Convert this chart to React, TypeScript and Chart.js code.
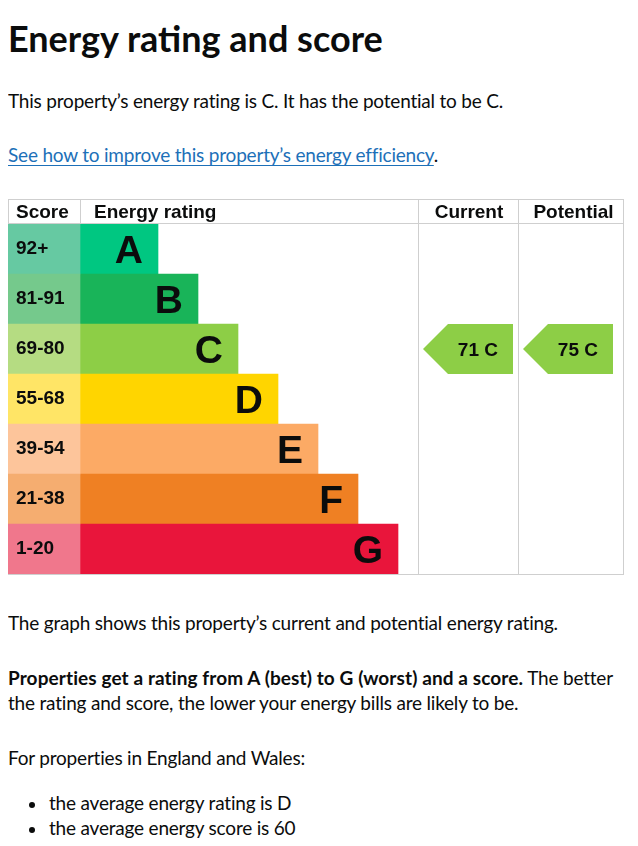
import { useEffect, useRef } from "react"
import { Chart, registerables, type ChartConfiguration, type Plugin } from "chart.js"

// Register Chart.js components
Chart.register(...registerables)

// Rating bands, best to worst
const ratings = ["A", "B", "C", "D", "E", "F", "G"]
const scoreRanges = ["92+", "81-91", "69-80", "55-68", "39-54", "21-38", "1-20"]
const barLengths = [78, 118, 158, 198, 238, 278, 318]
const bandColors = ["#00c781", "#19b459", "#8dce46", "#ffd500", "#fcaa65", "#ef8023", "#e9153b"]
const scoreColors = ["#66c9a2", "#75c98c", "#b5dc82", "#ffe566", "#fdc59b", "#f5ad70", "#f0778c"]

// Current and potential results for this property
const currentScore = 71
const currentRating = "C"
const potentialScore = 75
const potentialRating = "C"

const columnHeaders = ["Score", "Energy rating", "Current", "Potential"]
const averageNotes = ["the average energy rating is D", "the average energy score is 60"]

const SCORE_COL = 72
const CURRENT_LEFT = 410
const POTENTIAL_LEFT = 510
const TABLE_RIGHT = 615
const HEADER_H = 25
const GRID = "#cfcfcf"
const FONT = "'Liberation Sans', Arial, sans-serif"

const tablePlugin: Plugin<"bar"> = {
  id: "epcTable",
  beforeDatasetsDraw(chart) {
    const { ctx, height } = chart
    ctx.save()
    ctx.strokeStyle = GRID
    ctx.lineWidth = 1
    ctx.beginPath()
    // outer top, header bottom and bottom lines
    ctx.moveTo(0, 0.5)
    ctx.lineTo(TABLE_RIGHT + 1, 0.5)
    ctx.moveTo(0, HEADER_H - 0.5)
    ctx.lineTo(TABLE_RIGHT + 1, HEADER_H - 0.5)
    ctx.moveTo(0, height - 0.5)
    ctx.lineTo(TABLE_RIGHT + 1, height - 0.5)
    // verticals
    for (const x of [0, SCORE_COL, CURRENT_LEFT, POTENTIAL_LEFT, TABLE_RIGHT]) {
      ctx.moveTo(x + 0.5, 0)
      ctx.lineTo(x + 0.5, height)
    }
    ctx.stroke()
    ctx.restore()
  },
  afterDatasetsDraw(chart) {
    const { ctx } = chart
    const xScale = chart.scales.x
    const yScale = chart.scales.y
    const rowH = yScale.getPixelForValue(1) - yScale.getPixelForValue(0)
    ctx.save()

    // header texts
    ctx.fillStyle = "#0b0c0c"
    ctx.font = `bold 19px ${FONT}`
    ctx.textBaseline = "alphabetic"
    ctx.textAlign = "left"
    ctx.fillText(columnHeaders[0], 8, 19)
    ctx.fillText(columnHeaders[1], SCORE_COL + 14, 19)
    ctx.textAlign = "center"
    ctx.fillText(columnHeaders[2], (CURRENT_LEFT + POTENTIAL_LEFT) / 2 + 1, 19)
    ctx.fillText(columnHeaders[3], (POTENTIAL_LEFT + TABLE_RIGHT) / 2 + 3, 19)

    // score ranges and band letters
    ratings.forEach((r, i) => {
      const yc = yScale.getPixelForValue(i)
      ctx.fillStyle = "#0b0c0c"
      ctx.textAlign = "left"
      ctx.font = `bold 19px ${FONT}`
      ctx.fillText(scoreRanges[i], 8, yc + 5)
      ctx.textAlign = "right"
      ctx.font = `bold 39px ${FONT}`
      ctx.fillText(r, xScale.getPixelForValue(SCORE_COL + barLengths[i]) - 15, yc + 14)
    })

    // rating arrows
    const drawArrow = (left: number, score: number, rating: string) => {
      const idx = ratings.indexOf(rating)
      const yc = yScale.getPixelForValue(idx)
      const top = yc - rowH / 2
      const bottom = yc + rowH / 2
      const x0 = xScale.getPixelForValue(left + 5)
      const x1 = x0 + 25
      const x2 = x0 + 90
      ctx.fillStyle = bandColors[idx]
      ctx.beginPath()
      ctx.moveTo(x0, yc)
      ctx.lineTo(x1, top)
      ctx.lineTo(x2, top)
      ctx.lineTo(x2, bottom)
      ctx.lineTo(x1, bottom)
      ctx.closePath()
      ctx.fill()
      ctx.fillStyle = "#0b0c0c"
      ctx.font = `bold 19px ${FONT}`
      ctx.textAlign = "right"
      ctx.fillText(`${score} ${rating}`, x2 - 15, yc + 7)
    }
    drawArrow(CURRENT_LEFT, currentScore, currentRating)
    drawArrow(POTENTIAL_LEFT, potentialScore, potentialRating)
    ctx.restore()
  },
}

function EpcChart() {
  const canvasRef = useRef<HTMLCanvasElement>(null)

  useEffect(() => {
    if (!canvasRef.current) return
    const config: ChartConfiguration<"bar"> = {
      type: "bar",
      data: {
        labels: ratings,
        datasets: [
          {
            data: ratings.map(() => SCORE_COL),
            backgroundColor: scoreColors,
            borderWidth: 0,
            barPercentage: 1,
            categoryPercentage: 1,
          },
          {
            data: barLengths,
            backgroundColor: bandColors,
            borderWidth: 0,
            barPercentage: 1,
            categoryPercentage: 1,
          },
        ],
      },
      options: {
        indexAxis: "y",
        responsive: true,
        maintainAspectRatio: false,
        animation: false,
        events: [],
        layout: { padding: { top: HEADER_H, bottom: 1, left: 0, right: 0 } },
        scales: {
          x: { display: false, stacked: true, min: 0, max: 616 },
          y: { display: false, stacked: true },
        },
        plugins: { legend: { display: false }, tooltip: { enabled: false } },
      },
      plugins: [tablePlugin],
    }
    const chart = new Chart(canvasRef.current, config)
    return () => chart.destroy()
  }, [])

  return (
    <div style={{ position: "absolute", left: 0, top: 191, width: 616, height: 376 }}>
      <canvas ref={canvasRef} />
    </div>
  )
}

const body: React.CSSProperties = {
  position: "absolute",
  left: 0,
  margin: 0,
  fontSize: 19,
  lineHeight: "25px",
  letterSpacing: "-0.2px",
  color: "#0b0c0c",
  whiteSpace: "nowrap",
}

export default function App() {
  return (
    <div style={{ position: "relative", width: 622, height: 830, fontFamily: "Lato, sans-serif" }}>
      <h1 style={{ position: "absolute", left: 0, top: 10, margin: 0, fontSize: 36, lineHeight: "40px", fontWeight: 700, color: "#0b0c0c", whiteSpace: "nowrap" }}>
        Energy rating and score
      </h1>
      <p style={{ ...body, top: 80 }}>This property’s energy rating is C. It has the potential to be C.</p>
      <p style={{ ...body, top: 134 }}>
        <a href="#" style={{ color: "#1d70b8", textDecoration: "underline", textUnderlineOffset: 3, textDecorationThickness: 1 }}>
          See how to improve this property’s energy efficiency
        </a>
        .
      </p>
      <EpcChart />
      <p style={{ ...body, top: 602 }}>The graph shows this property’s current and potential energy rating.</p>
      <p style={{ ...body, top: 657 }}>
        <strong style={{ letterSpacing: "0.1px" }}>Properties get a rating from A (best) to G (worst) and a score.</strong> The better
        <br />
        the rating and score, the lower your energy bills are likely to be.
      </p>
      <p style={{ ...body, top: 737 }}>For properties in England and Wales:</p>
      <ul style={{ ...body, top: 782, padding: 0, listStyle: "none" }}>
        {averageNotes.map((note) => (
          <li key={note} style={{ position: "relative", paddingLeft: 41 }}>
            <span
              style={{ position: "absolute", left: 21, top: 12, width: 6, height: 6, borderRadius: 3, background: "#0b0c0c" }}
            />
            {note}
          </li>
        ))}
      </ul>
    </div>
  )
}
